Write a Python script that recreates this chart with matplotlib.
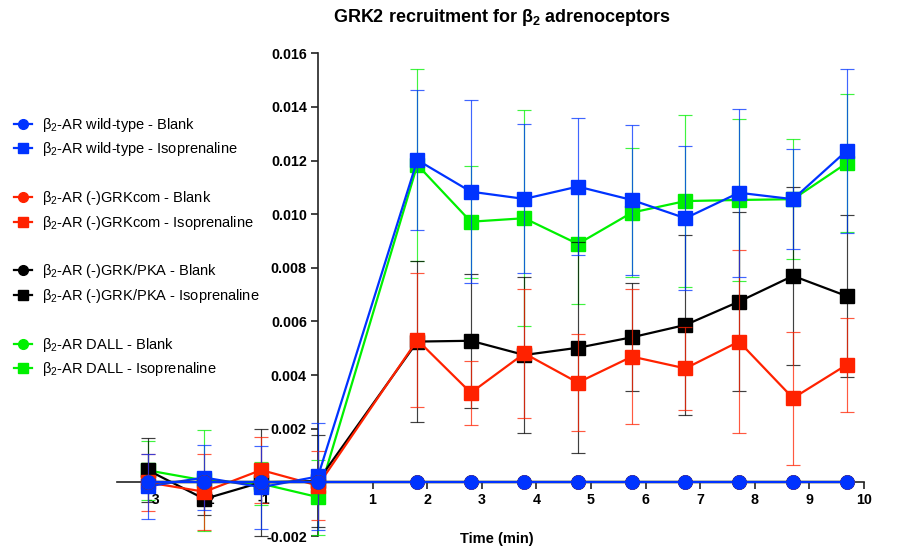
import matplotlib
matplotlib.use("Agg")
import matplotlib.pyplot as plt
from matplotlib.lines import Line2D
import numpy as np

plt.rcParams['font.family'] = ['Liberation Sans', 'DejaVu Sans']
plt.rcParams['mathtext.fontset'] = 'custom'
plt.rcParams['mathtext.rm'] = 'Liberation Sans'
plt.rcParams['mathtext.it'] = 'Liberation Sans:italic'
plt.rcParams['mathtext.bf'] = 'Liberation Sans:bold'

# ---------------- data ----------------
time_min = [-3.12, -2.08, -1.04, 0.0, 1.82, 2.80, 3.78, 4.76, 5.75, 6.73, 7.71, 8.70, 9.68]

wt_blank = [0.0] * 13
grkcom_blank = [0.0] * 13
grkpka_blank = [0.0] * 13
dall_blank = [0.0] * 13

wt_iso = [-0.00015, 0.00018, -0.00018, 0.00022, 0.01202, 0.01084, 0.01057, 0.01103,
          0.01053, 0.00985, 0.01080, 0.01056, 0.01236]
wt_iso_err = [0.00120, 0.00120, 0.00155, 0.00200, 0.00261, 0.00342, 0.00278, 0.00255,
              0.00278, 0.00268, 0.00313, 0.00186, 0.00305]

grkcom_iso = [0.00000, -0.00035, 0.00046, -0.00012, 0.00531, 0.00334, 0.00481, 0.00372,
              0.00469, 0.00425, 0.00525, 0.00314, 0.00438]
grkcom_iso_err = [0.00105, 0.00142, 0.00122, 0.00130, 0.00249, 0.00120, 0.00240, 0.00181,
                  0.00252, 0.00156, 0.00342, 0.00248, 0.00176]

grkpka_iso = [0.00046, -0.00062, 0.00000, 0.00005, 0.00525, 0.00528, 0.00475, 0.00502,
              0.00541, 0.00587, 0.00674, 0.00770, 0.00695]
grkpka_iso_err = [0.00118, 0.00060, 0.00200, 0.00172, 0.00300, 0.00249, 0.00292, 0.00393,
                  0.00201, 0.00335, 0.00335, 0.00333, 0.00303]

dall_iso = [0.00045, 0.00007, -0.00005, -0.00055, 0.01184, 0.00972, 0.00985, 0.00889,
            0.01006, 0.01049, 0.01053, 0.01056, 0.01190]
dall_iso_err = [0.00110, 0.00190, 0.00080, 0.00140, 0.00357, 0.00209, 0.00403, 0.00224,
                0.00240, 0.00322, 0.00302, 0.00224, 0.00257]

labels = [r"$\mathregular{\beta_2}$-AR wild-type - Blank",
          r"$\mathregular{\beta_2}$-AR wild-type - Isoprenaline",
          r"$\mathregular{\beta_2}$-AR (-)GRKcom - Blank",
          r"$\mathregular{\beta_2}$-AR (-)GRKcom - Isoprenaline",
          r"$\mathregular{\beta_2}$-AR (-)GRK/PKA - Blank",
          r"$\mathregular{\beta_2}$-AR (-)GRK/PKA - Isoprenaline",
          r"$\mathregular{\beta_2}$-AR DALL - Blank",
          r"$\mathregular{\beta_2}$-AR DALL - Isoprenaline"]

x_ticks = [-3, -2, -1, 0, 1, 2, 3, 4, 5, 6, 7, 8, 9, 10]
y_ticks = [-0.002, 0.0, 0.002, 0.004, 0.006, 0.008, 0.010, 0.012, 0.014, 0.016]

BLUE = '#0033ff'
RED = '#ff2200'
BLACK = '#000000'
GREEN = '#00f000'

# ---------------- figure ----------------
fig = plt.figure(figsize=(8.98, 5.47), dpi=100)
ax = fig.add_axes([117 / 898, 1 - 536 / 547, (864 - 117) / 898, (536 - 53.3) / 547])

ms = 9.5
iso_series = [
    (dall_iso, dall_iso_err, GREEN, 3.0),
    (grkpka_iso, grkpka_iso_err, BLACK, 3.1),
    (grkcom_iso, grkcom_iso_err, RED, 3.2),
    (wt_iso, wt_iso_err, BLUE, 3.3),
]
for y, e, c, z in iso_series:
    _, caps, bars = ax.errorbar(time_min, y, yerr=e, color=c, marker='s', ms=ms, lw=1.6,
                                elinewidth=0.85, capsize=5, capthick=0.85, zorder=z,
                                clip_on=False)
    for b in bars:
        b.set_alpha(0.75)
    for cp in caps:
        cp.set_alpha(0.75)

blank_series = [
    (dall_blank, GREEN, 3.4),
    (grkpka_blank, BLACK, 3.5),
    (grkcom_blank, RED, 3.6),
    (wt_blank, BLUE, 3.7),
]
for y, c, z in blank_series:
    ax.plot(time_min, y, color=c, marker='o', ms=ms, lw=1.6, zorder=z, clip_on=False)

ax.set_xlim(-3.68, 10)
ax.set_ylim(-0.002, 0.016)
for s in ['top', 'right']:
    ax.spines[s].set_visible(False)
ax.spines['left'].set_position(('data', 0))
ax.spines['bottom'].set_position(('data', 0))
for s in ['left', 'bottom']:
    ax.spines[s].set_linewidth(1.2)
    ax.spines[s].set_color('#222222')

ax.set_xticks(x_ticks)
ax.set_xticklabels(['' if v == 0 else str(v) for v in x_ticks])
ax.set_yticks(y_ticks)
ax.set_yticklabels(['' if v == 0 else f"{v:.3f}" for v in y_ticks])
ax.tick_params(axis='both', direction='out', length=5, width=1.2, color='#222222',
               labelsize=10.3, pad=3)
for lab in ax.get_xticklabels() + ax.get_yticklabels():
    lab.set_fontweight('bold')

ax.set_xlabel('Time (min)', fontsize=10.5, fontweight='bold')
ax.xaxis.set_label_coords(0.509, 0.008)

fig.text(502 / 898, 1 - 17 / 547, r"GRK2 recruitment for $\mathregular{\beta_2}$ adrenoceptors",
         ha='center', va='center', fontsize=13, fontweight='bold')

# legend with blank spacer rows between groups
colors = [BLUE, BLUE, RED, RED, BLACK, BLACK, GREEN, GREEN]
markers = ['o', 's'] * 4
handles, labs, hidden = [], [], []
for i in range(8):
    handles.append(Line2D([], [], color=colors[i], marker=markers[i], ms=7, lw=1.6))
    labs.append(labels[i])
    if i in (1, 3, 5):
        handles.append(Line2D([], [], linestyle='none'))
        labs.append(labels[i])
        hidden.append(len(labs) - 1)
leg = fig.legend(handles, labs, loc='upper left', bbox_to_anchor=(14 / 898, 1 - 116 / 547),
                 frameon=False, fontsize=10.5, handlelength=1.25, handletextpad=0.65,
                 labelspacing=0.44, borderpad=0, borderaxespad=0)
for i in hidden:
    leg.get_texts()[i].set_visible(False)

fig.savefig('out.png', dpi=100)
